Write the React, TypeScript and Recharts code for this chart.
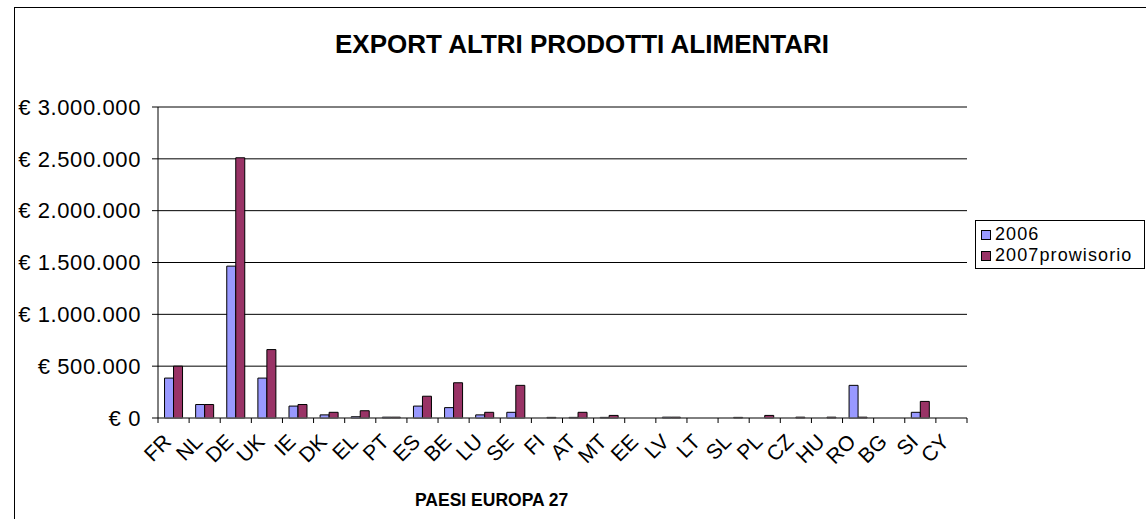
import React from 'react';
import { BarChart, Bar, XAxis, YAxis, CartesianGrid } from 'recharts';

const countries = ['FR', 'NL', 'DE', 'UK', 'IE', 'DK', 'EL', 'PT', 'ES', 'BE', 'LU', 'SE', 'FI', 'AT', 'MT', 'EE', 'LV', 'LT', 'SL', 'PL', 'CZ', 'HU', 'RO', 'BG', 'SI', 'CY'];
const export2006 = [385000, 130000, 1465000, 385000, 115000, 30000, 12000, 8000, 115000, 100000, 30000, 55000, 0, 6000, 6000, 0, 8000, 0, 0, 0, 0, 0, 315000, 0, 55000, 0];
const export2007 = [500000, 130000, 2510000, 660000, 130000, 55000, 70000, 8000, 210000, 340000, 55000, 315000, 6000, 55000, 25000, 0, 8000, 0, 6000, 25000, 8000, 8000, 8000, 0, 160000, 0];
const yTicks = [0, 500000, 1000000, 1500000, 2000000, 2500000, 3000000];

const series = [
  { key: 'y2006', name: '2006', color: '#9999FF' },
  { key: 'y2007', name: '2007prowisorio', color: '#993366' },
];

const data = countries.map((c, i) => ({ country: c, y2006: export2006[i], y2007: export2007[i] }));

const FONT = 'Arial, "Liberation Sans", sans-serif';

const euro = (v: number) => '€ ' + String(v).replace(/\B(?=(\d{3})+(?!\d))/g, '.');

function CountryTick(props: any) {
  const { x, y, payload, index } = props;
  const off = payload.offset || 0;
  const axisY = y - 7;
  const ax = x - 1;
  const ay = y + 18;
  return (
    <g>
      <line x1={x - off} y1={axisY} x2={x - off} y2={axisY + 5} stroke="#000" />
      {index === countries.length - 1 && (
        <line x1={x + off} y1={axisY} x2={x + off} y2={axisY + 5} stroke="#000" />
      )}
      <text
        x={ax}
        y={ay}
        textAnchor="end"
        transform={`rotate(-45, ${ax}, ${ay})`}
        fontSize={21}
        fontFamily={FONT}
        fill="#000"
      >
        {payload.value}
      </text>
    </g>
  );
}

function LegendBox() {
  return (
    <div style={{ position: 'absolute', left: 975, top: 220, width: 170, height: 49, boxSizing: 'border-box', border: '1px solid #000', background: '#fff', padding: '3px 0 0 5px', fontFamily: FONT, fontSize: 18, letterSpacing: 1.1, lineHeight: '21px' }}>
      {series.map((s) => (
        <div key={s.key} style={{ display: 'flex', alignItems: 'center', whiteSpace: 'nowrap', height: 21 }}>
          <span style={{ display: 'inline-block', width: 10, height: 10, boxSizing: 'border-box', background: s.color, border: '1px solid #000', marginRight: 4 }} />
          {s.name}
        </div>
      ))}
    </div>
  );
}

export default function App() {
  return (
    <div style={{ position: 'absolute', left: 0, top: 0, width: 1146, height: 519, background: '#fff', overflow: 'hidden' }}>
      <div style={{ position: 'absolute', left: 14, top: 7, width: 1140, height: 530, border: '1px solid #000', boxSizing: 'border-box' }} />
      <div style={{ position: 'absolute', left: 0, top: 29, width: 1164, textAlign: 'center', fontFamily: FONT, fontWeight: 'bold', fontSize: 26 }}>
        EXPORT ALTRI PRODOTTI ALIMENTARI
      </div>
      <div style={{ position: 'absolute', left: 0, top: 0 }}>
        <BarChart
          width={1146}
          height={519}
          data={data}
          margin={{ top: 107, right: 179, left: 13, bottom: 41 }}
          barCategoryGap="21%"
          barGap={0}
        >
          <CartesianGrid horizontal vertical={false} stroke="#000" strokeWidth={1} />
          <XAxis
            dataKey="country"
            interval={0}
            height={60}
            stroke="#808080"
            tickLine={false}
            tickSize={5}
            tickMargin={2}
            tick={<CountryTick />}
          />
          <YAxis
            width={145}
            domain={[0, 3000000]}
            ticks={yTicks}
            interval={0}
            stroke="#000"
            tickSize={6}
            tickMargin={11}
            tickFormatter={euro}
            tick={{ fontSize: 22, fontFamily: FONT, fill: '#000', letterSpacing: 0.6 }}
          />
          {series.map((s) => (
            <Bar key={s.key} dataKey={s.key} name={s.name} fill={s.color} stroke="#000" strokeWidth={1} isAnimationActive={false} />
          ))}
        </BarChart>
      </div>
      <LegendBox />
      <div style={{ position: 'absolute', left: 415, top: 490, fontFamily: FONT, fontWeight: 'bold', fontSize: 17.5, whiteSpace: 'nowrap' }}>
        PAESI EUROPA 27
      </div>
    </div>
  );
}
